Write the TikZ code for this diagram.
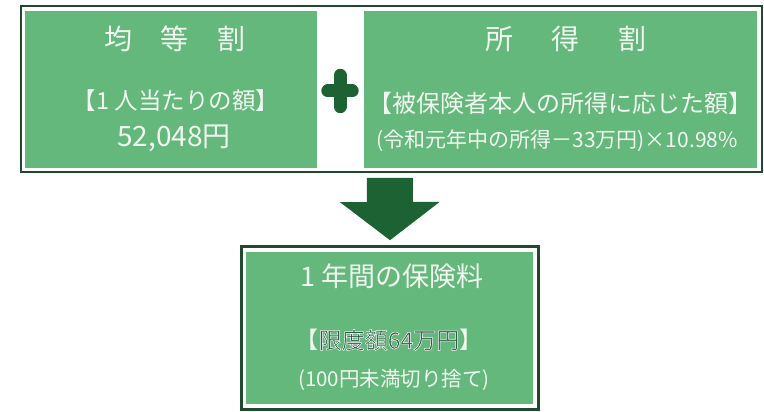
\documentclass[tikz,border=0pt]{standalone}
\usepackage{fontspec}
\setmainfont{Noto Sans CJK JP}
\usetikzlibrary{calc}
\definecolor{panelgreen}{HTML}{64B87C}
\definecolor{framedark}{HTML}{1F4A2E}
\definecolor{signgreen}{HTML}{1C6232}
\definecolor{txtlight}{HTML}{F0F8F0}
\definecolor{txtdark}{HTML}{34594A}
\newcommand{\fsz}[1]{\fontsize{#1}{#1}\selectfont}
\newcommand{\outlinedtext}[1]{\special{pdf:literal direct 2 Tr 0.5 w 1 1 1 RG}#1\special{pdf:literal direct 0 Tr}}
\begin{document}
\begin{tikzpicture}[x=1pt,y=-1pt,
  outerframe/.style={draw=framedark,fill=white,inner sep=0pt},
  panel/.style={fill=panelgreen,inner sep=0pt},
  txt/.style={inner sep=0pt,text=txtlight,anchor=center},
  plusbar/.style={draw=signgreen,line width=13pt,line cap=round}]
\useasboundingbox[fill=white] (0,0) rectangle (764,412);
% top frame and panels
\node[outerframe,line width=2pt,minimum width=741pt,minimum height=166pt] (frame) at (391.5,89) {};
\node[panel,minimum width=292pt,minimum height=157pt] (lp) at (171,89.5) {};
\node[panel,minimum width=393pt,minimum height=157pt] (rp) at (560.5,89.5) {};
% plus sign
\node[inner sep=0pt,minimum width=37pt,minimum height=44pt] (plus) at (340,91) {};
\draw[plusbar] ([xshift=6.5pt]plus.west) -- ([xshift=-6.5pt]plus.east);
\draw[plusbar] ([yshift=-6.5pt]plus.north) -- ([yshift=6.5pt]plus.south);
% big arrow
\node[inner sep=0pt,minimum width=100pt,minimum height=62pt] (arr) at (390,209) {};
\fill[signgreen] ($(arr.north west)+(27,0)$) -- ++(46,0) -- ++(0,24) -- ++(27,0)
  -- (arr.south) -- ++(-50,-38) -- ++(27,0) -- cycle;
% bottom box
\node[outerframe,line width=3pt,minimum width=297pt,minimum height=163pt] (bot) at (389.5,327.5) {};
\node[panel,minimum width=287pt,minimum height=152pt] (botin) at (389.5,328) {};
% texts
\node[txt,font=\fsz{28}] (lt) at (175,39) {均\hspace{29pt}等\hspace{29pt}割};
\node[txt,font=\fsz{23.5}] (lsub) at (176,101) {【1 人当たりの額】};
\node[txt,font=\fsz{28}] (lamt) at (174,138) {52,048円};
\node[txt,font=\fsz{28}] (rt) at (566,39) {所\hspace{39pt}得\hspace{39pt}割};
\node[txt,font=\fsz{24}] (rsub) at (560,103) {【被保険者本人の所得に応じた額】};
\node[txt,font=\fsz{21}] (rform) at (557,141) {(令和元年中の所得－33万円)×10.98\%};
\node[txt,font=\fsz{27}] (bt) at (392,276) {1 年間の保険料};
\node[txt,font=\fsz{23}] (bsub) at (389,340) {【{\color{txtdark}\outlinedtext{限度額64万円}}】};
\node[txt,font=\fsz{20.5}] (bnote) at (394,380) {(100円未満切り捨て)};
\end{tikzpicture}
\end{document}
